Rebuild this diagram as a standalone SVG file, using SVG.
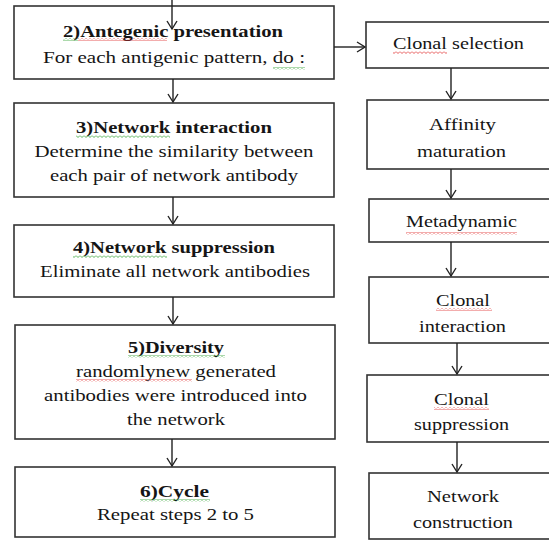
<svg xmlns="http://www.w3.org/2000/svg" width="549" height="540" viewBox="0 0 549 540">
<style>
.box{fill:#fff;stroke:#333;stroke-width:1.6}
.ln{fill:none;stroke:#222;stroke-width:1.4}
text{font-family:'Liberation Serif','DejaVu Serif',serif;font-size:17px;fill:#151515;text-anchor:middle}
.b{font-weight:bold;font-size:16.5px}
</style>
<defs>
<marker id="ah" markerWidth="12" markerHeight="12" refX="10" refY="6" orient="auto" markerUnits="userSpaceOnUse">
<path d="M2,1 L10,6 L2,11" fill="none" stroke="#222" stroke-width="1.4"/>
</marker>
<pattern id="sqr" width="4" height="3" patternUnits="userSpaceOnUse">
<path d="M0,0.5 L2,2.5 L4,0.5" fill="none" stroke="#e03030" stroke-width="0.8"/>
</pattern>
<pattern id="sqg" width="4" height="3" patternUnits="userSpaceOnUse">
<path d="M0,0.5 L2,2.5 L4,0.5" fill="none" stroke="#30a030" stroke-width="0.8"/>
</pattern>
</defs>
<rect width="549" height="540" fill="#fff"/>
<g id="n2">
<rect class="box" x="14" y="6" width="320" height="73"/>
<text class="b" x="173" y="37" textLength="220" lengthAdjust="spacingAndGlyphs">2)Antegenic presentation</text>
<text x="174" y="63" textLength="262" lengthAdjust="spacingAndGlyphs">For each antigenic pattern, do :</text>
<rect x="63" y="38" width="15" height="3" fill="url(#sqg)"/>
<rect x="78" y="38" width="89" height="3" fill="url(#sqr)"/>
<rect x="273" y="67" width="32" height="3" fill="url(#sqg)"/>
</g>
<g id="n3">
<rect class="box" x="14" y="103" width="320" height="94"/>
<text class="b" x="174" y="133" textLength="196" lengthAdjust="spacingAndGlyphs">3)Network interaction</text>
<text x="174" y="157" textLength="279" lengthAdjust="spacingAndGlyphs">Determine the similarity between</text>
<text x="174" y="181" textLength="248" lengthAdjust="spacingAndGlyphs">each pair of network antibody</text>
<rect x="76" y="135" width="94" height="3" fill="url(#sqg)"/>
</g>
<g id="n4">
<rect class="box" x="14" y="225" width="320" height="72"/>
<text class="b" x="174" y="253" textLength="202" lengthAdjust="spacingAndGlyphs">4)Network suppression</text>
<text x="175" y="277" textLength="270" lengthAdjust="spacingAndGlyphs">Eliminate all network antibodies</text>
<rect x="73" y="255" width="94" height="3" fill="url(#sqg)"/>
</g>
<g id="n5">
<rect class="box" x="15" y="325" width="320" height="114"/>
<text class="b" x="176" y="353" textLength="96" lengthAdjust="spacingAndGlyphs">5)Diversity</text>
<text x="176" y="377" textLength="200" lengthAdjust="spacingAndGlyphs">randomlynew generated</text>
<text x="175.5" y="401" textLength="263" lengthAdjust="spacingAndGlyphs">antibodies were introduced into</text>
<text x="176" y="425" textLength="98" lengthAdjust="spacingAndGlyphs">the network</text>
<rect x="128" y="355" width="97" height="3" fill="url(#sqg)"/>
<rect x="76" y="379" width="116" height="3" fill="url(#sqr)"/>
</g>
<g id="n6">
<rect class="box" x="15" y="467" width="320" height="70"/>
<text class="b" x="174.5" y="497" textLength="69" lengthAdjust="spacingAndGlyphs">6)Cycle</text>
<text x="175.5" y="520" textLength="157" lengthAdjust="spacingAndGlyphs">Repeat steps 2 to 5</text>
<rect x="140" y="499" width="70" height="3" fill="url(#sqg)"/>
</g>
<g id="r1">
<rect class="box" x="366" y="22" width="200" height="46"/>
<text x="458.5" y="49" textLength="131" lengthAdjust="spacingAndGlyphs">Clonal selection</text>
<rect x="393" y="51" width="54" height="3" fill="url(#sqr)"/>
</g>
<g id="r2">
<rect class="box" x="367" y="100" width="200" height="69"/>
<text x="462.5" y="130" textLength="67" lengthAdjust="spacingAndGlyphs">Affinity</text>
<text x="461.5" y="157" textLength="89" lengthAdjust="spacingAndGlyphs">maturation</text>
</g>
<g id="r3">
<rect class="box" x="369" y="199" width="200" height="43"/>
<text x="461.5" y="227" textLength="111" lengthAdjust="spacingAndGlyphs">Metadynamic</text>
<rect x="406" y="232" width="111" height="3" fill="url(#sqr)"/>
</g>
<g id="r4">
<rect class="box" x="369" y="277" width="200" height="66"/>
<text x="463" y="306" textLength="54" lengthAdjust="spacingAndGlyphs">Clonal</text>
<text x="462.5" y="332" textLength="87" lengthAdjust="spacingAndGlyphs">interaction</text>
<rect x="436" y="308" width="56" height="3" fill="url(#sqr)"/>
</g>
<g id="r5">
<rect class="box" x="367" y="375" width="200" height="67"/>
<text x="461.5" y="405" textLength="55" lengthAdjust="spacingAndGlyphs">Clonal</text>
<text x="461.5" y="430" textLength="95" lengthAdjust="spacingAndGlyphs">suppression</text>
<rect x="434" y="407" width="55" height="3" fill="url(#sqr)"/>
</g>
<g id="r6">
<rect class="box" x="369" y="473" width="200" height="66"/>
<text x="463" y="502" textLength="72" lengthAdjust="spacingAndGlyphs">Network</text>
<text x="463" y="528" textLength="100" lengthAdjust="spacingAndGlyphs">construction</text>
</g>
<g id="connectors">
<line class="ln" x1="172" y1="0" x2="172" y2="29" marker-end="url(#ah)"/>
<line class="ln" x1="173" y1="79" x2="173" y2="102" marker-end="url(#ah)"/>
<line class="ln" x1="173" y1="197" x2="173" y2="224" marker-end="url(#ah)"/>
<line class="ln" x1="173" y1="297" x2="173" y2="324" marker-end="url(#ah)"/>
<line class="ln" x1="172" y1="439" x2="172" y2="466" marker-end="url(#ah)"/>
<line class="ln" x1="334" y1="47" x2="365" y2="47" marker-end="url(#ah)"/>
<line class="ln" x1="451" y1="68" x2="451" y2="99" marker-end="url(#ah)"/>
<line class="ln" x1="451" y1="169" x2="451" y2="198" marker-end="url(#ah)"/>
<line class="ln" x1="451" y1="242" x2="451" y2="276" marker-end="url(#ah)"/>
<line class="ln" x1="457" y1="343" x2="457" y2="374" marker-end="url(#ah)"/>
<line class="ln" x1="457" y1="442" x2="457" y2="472" marker-end="url(#ah)"/>
</g>
</svg>
